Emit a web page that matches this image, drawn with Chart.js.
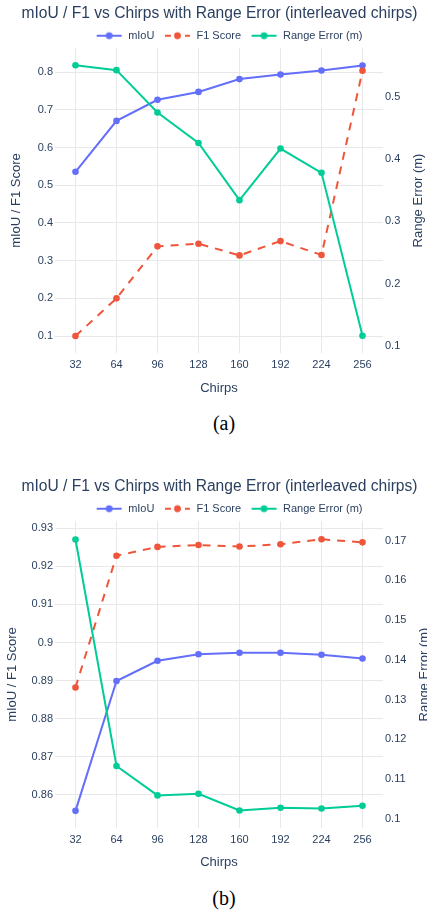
<!DOCTYPE html>
<html>
<head>
<meta charset="utf-8">
<script src="https://cdn.jsdelivr.net/npm/chart.js@4"></script>
<style>
    body { margin: 0; background: #fff; width: 427px; height: 911px; position: relative; overflow: hidden; }
    .panel { position: absolute; left: 0; width: 427px; overflow: hidden; }
    .caption { position: absolute; left: 0; width: 448px; text-align: center; font: 20px "Liberation Serif", "Times New Roman", serif; line-height: 24px; color: #000; }
</style>
</head>
<body>
<div class="panel" style="top:0;height:405px"><canvas id="chartA" width="427" height="405"></canvas></div>
<div class="caption" style="top:411px">(a)</div>
<div class="panel" style="top:473px;height:407px"><canvas id="chartB" width="427" height="407"></canvas></div>
<div class="caption" style="top:886px">(b)</div>
<script>
const chirps = ['32', '64', '96', '128', '160', '192', '224', '256'];

// (a)
const miouA = [0.536, 0.671, 0.727, 0.748, 0.782, 0.794, 0.805, 0.818];
const f1A = [0.100, 0.200, 0.338, 0.345, 0.314, 0.352, 0.315, 0.804];
const rangeErrA = [0.551, 0.543, 0.475, 0.426, 0.334, 0.417, 0.378, 0.116];

// (b)
const miouB = [0.8558, 0.8899, 0.8952, 0.8969, 0.8973, 0.8973, 0.8968, 0.8958];
const f1B = [0.8882, 0.9228, 0.9251, 0.9256, 0.9252, 0.9258, 0.9271, 0.9263];
const rangeErrB = [0.1703, 0.1133, 0.1059, 0.1063, 0.1021, 0.1028, 0.1026, 0.1033];

const TITLE = 'mIoU / F1 vs Chirps with Range Error (interleaved chirps)';
const TEXT = '#2a3f5f';
const GRID = '#e8e8eb';
const FONT = '"Liberation Sans", Arial, sans-serif';
const COLORS = ['#636efa', '#ef553b', '#00cc96'];

Chart.defaults.font.family = FONT;
Chart.defaults.color = TEXT;

function legendIcon(color, dashed) {
    const c = document.createElement('canvas');
    c.width = 29;
    c.height = 10;
    const g = c.getContext('2d');
    g.strokeStyle = color;
    g.lineWidth = 2;
    if (dashed) g.setLineDash([6, 4]);
    g.beginPath();
    g.moveTo(3, 5);
    g.lineTo(28, 5);
    g.stroke();
    g.fillStyle = color;
    g.beginPath();
    g.arc(15.5, 5, 3.4, 0, Math.PI * 2);
    g.fill();
    return c;
}
const icons = [legendIcon(COLORS[0], false), legendIcon(COLORS[1], true), legendIcon(COLORS[2], false)];

// plotly-style right axis title, reading bottom to top
const rightTitle = {
    id: 'rightTitle',
    afterDraw(chart, args, opts) {
        const {ctx, chartArea} = chart;
        ctx.save();
        ctx.translate(opts.x, (chartArea.top + chartArea.bottom) / 2);
        ctx.rotate(-Math.PI / 2);
        ctx.font = '13px ' + FONT;
        ctx.fillStyle = TEXT;
        ctx.textAlign = 'center';
        ctx.textBaseline = 'middle';
        ctx.fillText(opts.text, 0, 0);
        ctx.restore();
    }
};

// nudge the legend row sideways after layout
const legendShift = {
    id: 'legendShift',
    afterLayout(chart, args, opts) {
        chart.legend.left += opts.dx;
        chart.legend.right += opts.dx;
    }
};

function series(label, data, i, axis, order) {
    return {
        label: label,
        data: data,
        yAxisID: axis,
        order: order,
        borderColor: COLORS[i],
        backgroundColor: COLORS[i],
        pointBackgroundColor: COLORS[i],
        borderWidth: 2,
        borderDash: i === 1 ? [8, 7] : [],
        pointRadius: 3.3,
        pointBorderWidth: 0,
        tension: 0
    };
}

const fmt = v => String(+v.toFixed(3));

function makeChart(id, cfg) {
    return new Chart(document.getElementById(id), {
        type: 'line',
        data: {
            labels: chirps,
            datasets: [
                series('mIoU', cfg.miou, 0, 'y', 2),
                series('F1 Score', cfg.f1, 1, 'y', 1),
                series('Range Error (m)', cfg.range, 2, 'y1', 0)
            ]
        },
        plugins: [rightTitle, legendShift],
        options: {
            responsive: false,
            animation: false,
            devicePixelRatio: 1,
            layout: {padding: {left: 12, right: 0, top: 0, bottom: 0}},
            scales: {
                x: {
                    type: 'category',
                    offset: true,
                    afterFit: s => { s.height = 52; },
                    grid: {color: GRID, drawTicks: false},
                    border: {display: false},
                    ticks: {font: {size: 11}, padding: 5, maxRotation: 0, autoSkip: false},
                    title: {display: true, text: 'Chirps', font: {size: 13}, padding: {top: 0, bottom: cfg.xTitlePad}}
                },
                y: {
                    position: 'left',
                    min: cfg.yMin,
                    max: cfg.yMax,
                    afterFit: s => { s.width = 43; },
                    grid: {color: GRID, drawTicks: false},
                    border: {display: false},
                    ticks: {stepSize: cfg.yStep, includeBounds: false, font: {size: 11}, padding: 2, callback: fmt},
                    title: {display: true, text: 'mIoU / F1 Score', font: {size: 13}, padding: {top: cfg.yTitlePad, bottom: 0}}
                },
                y1: {
                    position: 'right',
                    min: cfg.rMin,
                    max: cfg.rMax,
                    afterFit: s => { s.width = 44; },
                    grid: {display: false, drawTicks: false},
                    border: {display: false},
                    ticks: {stepSize: cfg.rStep, includeBounds: false, font: {size: 11}, padding: 2, callback: fmt}
                }
            },
            plugins: {
                title: {
                    display: true,
                    text: TITLE,
                    color: TEXT,
                    font: {size: 15.6, weight: 'normal'},
                    padding: {top: 4, bottom: 0}
                },
                legend: {
                    display: true,
                    fullSize: false,
                    align: 'end',
                    maxHeight: 25.3,
                    labels: {
                        usePointStyle: true,
                        pointStyleWidth: 29,
                        padding: 7.5,
                        color: TEXT,
                        font: {size: 11},
                        sort: (a, b) => a.datasetIndex - b.datasetIndex,
                        generateLabels: chart => Chart.defaults.plugins.legend.labels.generateLabels(chart)
                            .map(item => ({...item, pointStyle: icons[item.datasetIndex]}))
                    }
                },
                legendShift: {dx: -13},
                tooltip: {enabled: false},
                rightTitle: {text: 'Range Error (m)', x: cfg.rTitleX}
            }
        }
    });
}

makeChart('chartA', {
    miou: miouA, f1: f1A, range: rangeErrA,
    yMin: 0.0549, yMax: 0.8645, yStep: 0.1,
    rMin: 0.0883, rMax: 0.5786, rStep: 0.1,
    yTitlePad: -3.3, rTitleX: 418.3, xTitlePad: 9.2
});

makeChart('chartB', {
    miou: miouB, f1: f1B, range: rangeErrB,
    yMin: 0.8513, yMax: 0.9319, yStep: 0.01,
    rMin: 0.0977, rMax: 0.17495, rStep: 0.01,
    yTitlePad: -7.5, rTitleX: 424.5, xTitlePad: 9.5
});
</script>
</body>
</html>
